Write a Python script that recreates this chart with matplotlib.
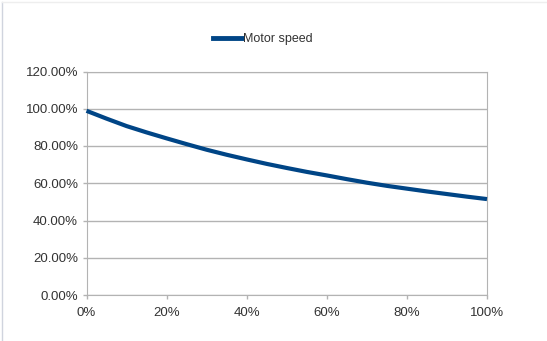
import matplotlib
matplotlib.use("Agg")
import matplotlib.pyplot as plt
from matplotlib.ticker import FuncFormatter
from matplotlib.lines import Line2D

load = [0.0, 0.05, 0.1, 0.15, 0.2, 0.25, 0.3, 0.35, 0.4, 0.45, 0.5,
        0.55, 0.6, 0.65, 0.7, 0.75, 0.8, 0.85, 0.9, 0.95, 1.0]
speed = [0.989, 0.947, 0.907, 0.873, 0.841, 0.810, 0.780, 0.753, 0.728, 0.704, 0.682,
         0.661, 0.642, 0.622, 0.603, 0.586, 0.571, 0.556, 0.542, 0.528, 0.515]
series_name = "Motor speed"
y_ticks = [0, 0.2, 0.4, 0.6, 0.8, 1.0, 1.2]
x_ticks = [0, 0.2, 0.4, 0.6, 0.8, 1.0]

plt.rcParams['font.family'] = ['Liberation Sans', 'DejaVu Sans']
fig = plt.figure(figsize=(5.47, 3.41), dpi=100)
ax = fig.add_axes([86.5/547, 1 - 295/341, (487 - 86.5)/547, (295 - 71.5)/341])

grid_c = '#b3b3b3'
text_c = '#333333'
ax.plot(load, speed, color='#004586', lw=3, solid_capstyle='butt', zorder=3, clip_on=False)
ax.set_xlim(0, 1)
ax.set_ylim(0, 1.2)
ax.set_xticks(x_ticks)
ax.set_yticks(y_ticks)
ax.xaxis.set_major_formatter(FuncFormatter(lambda v, p: f"{v*100:.0f}%"))
ax.yaxis.set_major_formatter(FuncFormatter(lambda v, p: f"{v*100:.2f}%"))
ax.grid(axis='y', color=grid_c, lw=1)
for s in ax.spines.values():
    s.set_color(grid_c)
ax.tick_params(axis='both', colors=grid_c, labelcolor=text_c, labelsize=9.5, length=3, width=1, direction='out')
ax.tick_params(axis='x', pad=6)
ax.tick_params(axis='y', pad=3)

handle = Line2D([0], [0], color='#004586', lw=3.5)
fig.legend([handle], [series_name], loc='center', bbox_to_anchor=(263/547, 1 - 39/341),
           frameon=False, fontsize=9, handlelength=2.3, handletextpad=0.1, labelcolor=text_c)

# light border on left and top edges
fig.add_artist(Line2D([1.5/547, 1.5/547], [0, 1 - 1.5/341], transform=fig.transFigure, color='#d0d4de', lw=1))
fig.add_artist(Line2D([1.5/547, 1], [1 - 1.5/341, 1 - 1.5/341], transform=fig.transFigure, color='#eeeeee', lw=1))

fig.savefig('out.png', dpi=100)
